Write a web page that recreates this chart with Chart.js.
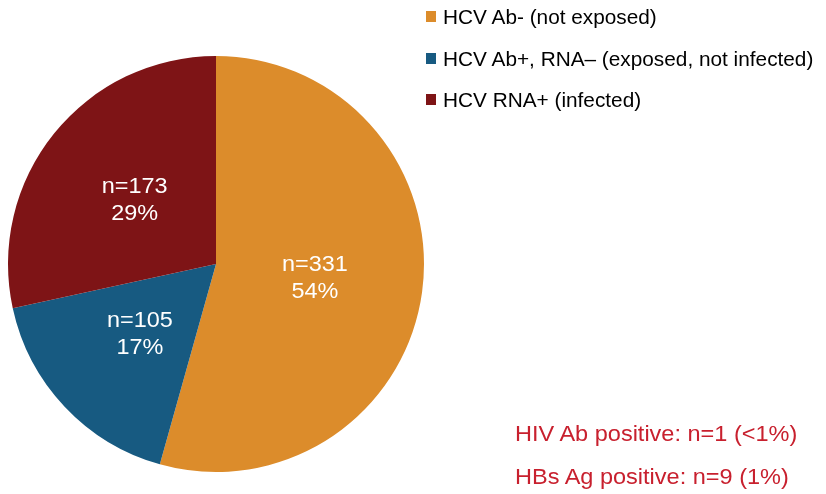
<!DOCTYPE html>
<html><head><meta charset="utf-8">
<script src="https://cdn.jsdelivr.net/npm/chart.js@4"></script>
<style>
html,body{margin:0;padding:0;background:#fff;}
#wrap{position:relative;width:826px;height:494px;font-family:"Liberation Sans",Arial,sans-serif;}
canvas{position:absolute;left:0;top:0;}
.leg{position:absolute;left:426px;font-size:20.3px;color:#000;white-space:nowrap;line-height:1;}
.leg span.sq{position:absolute;left:0;width:10px;height:11px;}
.leg span.tx{position:absolute;left:17px;top:0;transform:scaleX(1.025);transform-origin:0 0;}
.note{position:absolute;left:515px;font-size:22.5px;color:#C8202E;white-space:nowrap;line-height:1;transform:scaleX(1.045);transform-origin:0 0;}
</style></head>
<body><div id="wrap"><canvas id="c" width="826" height="494"></canvas><div id="legend"></div><div id="notes"></div></div>
<script>
const categories = ["HCV Ab- (not exposed)", "HCV Ab+, RNA– (exposed, not infected)", "HCV RNA+ (infected)"];
const counts = [331, 105, 173];
const percentLabels = ["54%", "17%", "29%"];
const colors = ["#DC8C2B", "#175A81", "#7E1416"];
const notes = ["HIV Ab positive: n=1 (<1%)", "HBs Ag positive: n=9 (1%)"];

const legendEl = document.getElementById('legend');
categories.forEach((c, i) => {
  const d = document.createElement('div');
  d.className = 'leg';
  const baseline = 24.3 + i * 41.5;
  d.style.top = (baseline - 0.8465 * 20.3) + 'px';
  const sq = document.createElement('span');
  sq.className = 'sq';
  sq.style.background = colors[i];
  sq.style.top = (0.8465 * 20.3 - 13) + 'px';
  d.appendChild(sq);
  const tx = document.createElement('span');
  tx.className = 'tx';
  tx.textContent = c;
  d.appendChild(tx);
  legendEl.appendChild(d);
});
const notesEl = document.getElementById('notes');
notes.forEach((t, i) => {
  const d = document.createElement('div');
  d.className = 'note';
  const baseline = 442.3 + i * 42.7;
  d.style.top = (baseline - 0.8465 * 22.5) + 'px';
  d.textContent = t;
  notesEl.appendChild(d);
});

const labelPlugin = {
  id: 'sliceLabels',
  afterDatasetsDraw(chart) {
    const ctx = chart.ctx;
    const meta = chart.getDatasetMeta(0);
    ctx.save();
    ctx.fillStyle = '#fff';
    ctx.font = '22px "Liberation Sans", Arial, sans-serif';
    ctx.textAlign = 'center';
    ctx.textBaseline = 'middle';
    meta.data.forEach((arc, i) => {
      const p = arc.getProps(['x', 'y', 'startAngle', 'endAngle', 'outerRadius']);
      const mid = (p.startAngle + p.endAngle) / 2;
      const r = p.outerRadius * 0.49;
      const x = p.x + Math.cos(mid) * r - 2;
      const y = p.y + Math.sin(mid) * r;
      ctx.save();
      ctx.translate(x, y);
      ctx.scale(1.065, 1);
      ctx.fillText('n=' + counts[i], 0, -13);
      ctx.fillText(percentLabels[i], 0, 14);
      ctx.restore();
    });
    ctx.restore();
  }
};

new Chart(document.getElementById('c'), {
  type: 'pie',
  data: { labels: categories, datasets: [{ data: counts, backgroundColor: colors, borderWidth: 0 }] },
  options: {
    responsive: false,
    animation: false,
    layout: { padding: { left: 8, top: 56, right: 402, bottom: 22 } },
    plugins: { legend: { display: false }, tooltip: { enabled: false } }
  },
  plugins: [labelPlugin]
});
</script></body></html>
